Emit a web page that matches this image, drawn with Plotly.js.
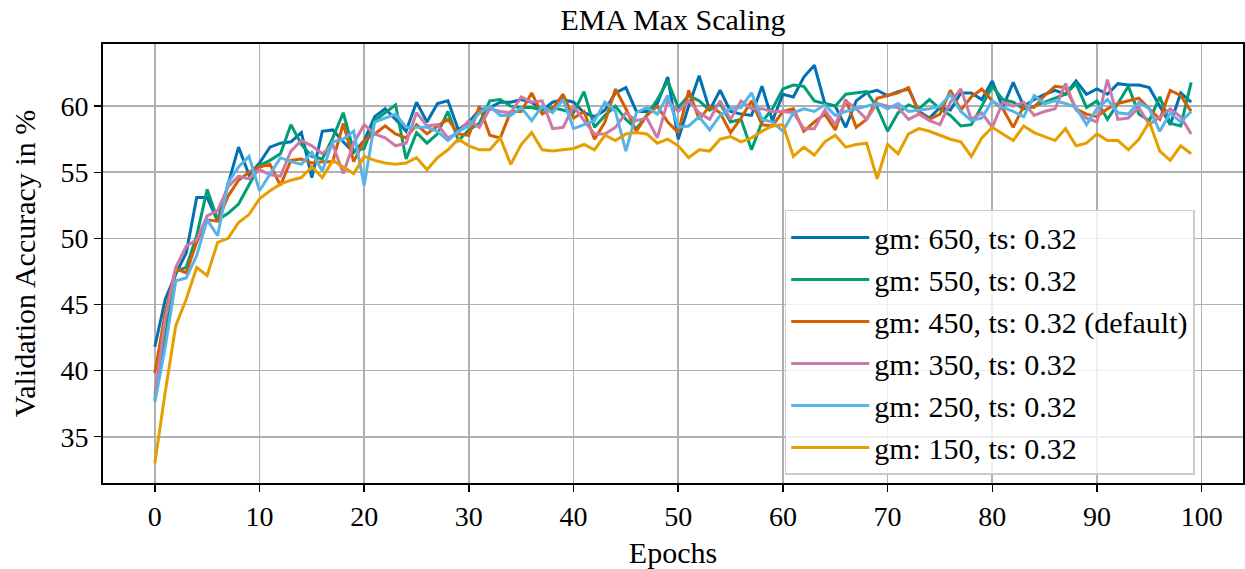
<!DOCTYPE html>
<html>
<head>
<meta charset="utf-8">
<script src="https://cdn.plot.ly/plotly-3.0.1.min.js"></script>
<style>
  html, body { margin: 0; padding: 0; background: #ffffff; }
  #chart { width: 1245px; height: 569px; }
</style>
</head>
<body>
<div id="chart"></div>
<script>
const epochs = [0,1,2,3,4,5,6,7,8,9,10,11,12,13,14,15,16,17,18,19,20,21,22,23,24,25,26,27,28,29,30,31,32,33,34,35,36,37,38,39,40,41,42,43,44,45,46,47,48,49,50,51,52,53,54,55,56,57,58,59,60,61,62,63,64,65,66,67,68,69,70,71,72,73,74,75,76,77,78,79,80,81,82,83,84,85,86,87,88,89,90,91,92,93,94,95,96,97,98,99];

const seriesNames = [
  "gm: 650, ts: 0.32",
  "gm: 550, ts: 0.32",
  "gm: 450, ts: 0.32 (default)",
  "gm: 350, ts: 0.32",
  "gm: 250, ts: 0.32",
  "gm: 150, ts: 0.32"
];

const gm650 = [41.8,45.4,47.3,48.9,53.1,53.1,51.3,54.2,56.9,54.8,
  55.7,56.9,57.2,57.3,58.0,54.6,58.1,58.2,57.3,56.5,
  57.4,59.2,59.8,59.0,58.1,60.3,58.8,60.2,60.4,58.2,
  58.8,59.7,59.9,60.3,60.3,60.5,60.3,59.7,60.3,60.5,
  60.3,59.5,59.2,59.7,61.0,61.4,59.6,59.6,60.2,62.2,
  57.5,60.0,62.3,59.7,61.2,59.6,59.4,59.3,61.5,58.9,
  60.9,60.7,62.2,63.1,60.2,60.0,58.4,60.4,61.0,61.2,
  60.8,61.1,61.3,59.6,59.1,59.9,59.7,61.0,61.0,60.5,
  61.9,59.9,61.8,60.0,60.5,60.9,61.2,60.9,61.9,60.9,
  61.3,60.9,61.7,61.6,61.6,61.4,60.0,58.6,61.0,60.3];

const gm550 = [37.8,42.9,47.5,47.8,50.2,53.7,51.4,51.9,52.6,54.0,
  55.5,55.9,56.4,58.6,57.1,56.2,56.0,57.6,59.5,56.6,
  56.8,58.9,59.5,60.1,56.0,58.0,57.2,57.9,59.6,57.4,
  58.2,58.7,60.4,60.5,60.0,59.9,59.9,59.7,59.9,59.7,
  59.5,61.1,58.4,59.3,60.0,59.0,58.3,59.3,60.5,61.9,
  59.9,60.8,60.4,59.7,60.2,58.8,59.0,56.7,58.8,59.8,
  61.3,61.6,61.5,60.4,60.2,60.0,60.9,61.0,61.1,59.9,
  58.1,59.5,60.1,59.8,60.5,59.8,59.3,58.5,58.6,60.0,
  61.5,60.5,60.3,59.8,60.0,60.3,60.6,60.9,61.7,59.9,
  60.4,59.0,60.2,61.5,59.4,58.9,60.7,58.7,58.5,61.8];

const gm450 = [39.8,44.4,47.7,47.4,49.7,51.4,51.3,53.2,54.4,55.0,
  55.4,55.6,54.0,55.9,56.0,55.7,55.8,55.8,58.7,55.8,
  57.4,57.9,58.5,57.9,57.6,58.6,57.9,58.5,59.0,57.9,
  57.8,60.0,57.8,57.6,59.6,59.6,61.0,59.4,59.8,60.9,
  59.1,59.6,57.5,58.8,61.3,59.8,58.1,59.3,60.0,58.8,
  58.0,61.2,59.0,60.0,59.5,58.0,59.1,60.4,58.6,58.5,
  59.6,59.8,58.1,58.8,59.4,58.2,60.5,58.4,59.0,60.6,
  60.8,61.0,61.4,59.5,59.0,59.4,61.2,59.7,60.7,61.3,
  60.4,59.8,58.4,60.0,59.9,60.8,61.5,61.4,59.8,59.4,
  59.2,59.8,60.2,60.4,60.6,59.8,59.0,61.2,60.8,59.6];

const gm350 = [38.2,43.9,47.8,49.4,49.9,51.7,52.1,53.9,54.7,54.5,
  55.2,54.8,54.7,56.6,57.4,57.0,56.4,57.1,54.9,57.2,
  58.6,57.9,57.6,57.0,57.2,59.5,58.5,58.6,57.6,58.0,
  58.9,58.4,59.8,59.6,59.5,60.7,60.3,60.4,58.3,58.4,
  60.0,58.9,57.9,57.9,58.4,59.5,58.9,59.1,57.6,60.4,
  59.6,60.4,59.5,59.0,60.4,59.0,60.4,59.8,59.8,59.6,
  59.6,59.5,58.3,58.3,59.7,58.6,60.4,59.8,59.0,60.2,
  60.0,59.9,59.0,59.4,58.9,58.6,60.3,61.3,59.0,59.5,
  58.4,60.3,60.0,60.3,59.3,59.6,59.8,61.7,59.7,59.1,
  58.8,62.0,59.0,59.1,59.9,58.6,59.2,59.8,59.2,57.9];

const gm250 = [37.6,41.8,46.8,47.0,48.7,51.4,50.2,54.2,55.4,56.2,
  53.6,54.8,56.1,55.8,55.6,56.5,55.1,57.3,57.5,58.1,
  54.0,58.8,59.1,59.4,58.4,58.4,58.4,58.1,57.4,58.1,
  58.5,59.5,60.0,59.3,59.3,59.9,58.9,60.0,59.5,60.5,
  58.3,58.6,58.9,60.3,59.6,56.6,59.5,59.9,59.4,60.8,
  58.4,58.5,59.2,58.2,59.3,59.8,59.9,61.0,59.0,58.8,
  58.1,59.5,59.8,59.6,60.1,59.3,59.6,59.8,60.0,60.2,
  59.8,60.2,59.6,59.7,59.8,60.0,60.9,59.6,58.9,59.1,
  60.4,59.9,59.6,59.2,60.8,60.2,60.4,60.2,59.9,58.6,
  59.8,60.5,59.5,59.4,60.3,59.8,58.1,59.5,58.8,59.6];

const gm150 = [33.0,38.4,43.4,45.4,47.8,47.2,49.7,50.0,51.2,51.8,
  53.0,53.6,54.1,54.4,54.6,55.4,54.6,55.9,55.4,54.9,
  56.2,55.9,55.7,55.6,55.7,56.1,55.2,56.1,56.7,57.5,
  57.0,56.7,56.7,57.6,55.6,57.1,58.0,56.7,56.6,56.7,
  56.8,57.1,56.7,57.8,57.4,57.9,58.0,57.9,57.2,57.5,
  57.0,56.1,56.7,56.6,57.5,57.7,57.3,57.6,58.1,58.5,
  58.6,56.2,56.9,56.3,57.3,57.8,56.9,57.1,57.2,54.5,
  57.1,56.4,57.9,58.3,58.1,57.8,57.5,57.3,56.2,57.6,
  58.4,57.9,57.4,58.5,58.0,57.7,57.4,58.3,57.0,57.2,
  57.9,57.4,57.4,56.7,57.5,58.8,56.6,55.9,57.0,56.4];

const seriesValues = [gm650, gm550, gm450, gm350, gm250, gm150];
const seriesColors = ["#0072B2", "#009E73", "#D55E00", "#CC79A7", "#56B4E9", "#E69F00"];

const xTicks = [0,10,20,30,40,50,60,70,80,90,100];
const yTicks = [35,40,45,50,55,60];

const FONT = "Liberation Serif, Times New Roman, serif";

const traces = seriesValues.map((vals, i) => ({
  type: "scatter",
  mode: "lines",
  x: epochs,
  y: vals,
  name: seriesNames[i],
  legendgroup: "g" + i,
  line: { color: seriesColors[i], width: 3 },
  hoverinfo: "skip"
}));

const layout = {
  width: 1245,
  height: 569,
  paper_bgcolor: "#ffffff",
  plot_bgcolor: "#ffffff",
  margin: { l: 103, r: 2, t: 44, b: 86 },
  font: { family: FONT, size: 28, color: "#000000" },
  title: {
    text: "EMA Max Scaling",
    font: { family: FONT, size: 30, color: "#000000" },
    x: 0.5406, xref: "container", xanchor: "center",
    y: 0.965, yref: "container", yanchor: "middle"
  },
  showlegend: true,
  legend: {
    x: 0.598, y: 0.622, xanchor: "left", yanchor: "top",
    bgcolor: "rgba(255,255,255,0.8)",
    bordercolor: "#cccccc", borderwidth: 1.5,
    font: { family: FONT, size: 30, color: "#000000" },
    itemwidth: 78,
    tracegroupgap: 1,
    traceorder: "normal"
  },
  xaxis: {
    range: [-4.95, 103.95],
    tickvals: xTicks,
    ticktext: xTicks.map(String),
    ticks: "outside", ticklen: 7, tickwidth: 1.5, tickcolor: "#000000",
    showgrid: true, gridcolor: "#b0b0b0", gridwidth: 1.6,
    zeroline: false,
    showline: true, linecolor: "#000000", linewidth: 2, mirror: true,
    tickfont: { family: FONT, size: 28, color: "#000000" },
    title: { text: "Epochs", font: { family: FONT, size: 30, color: "#000000" }, standoff: 12 }
  },
  yaxis: {
    range: [31.5, 64.7],
    tickvals: yTicks,
    ticktext: yTicks.map(String),
    ticks: "outside", ticklen: 7, tickwidth: 1.5, tickcolor: "#000000",
    showgrid: true, gridcolor: "#b0b0b0", gridwidth: 1.6,
    zeroline: false,
    showline: true, linecolor: "#000000", linewidth: 2, mirror: true,
    tickfont: { family: FONT, size: 28, color: "#000000" },
    title: { text: "Validation Accuracy in %", font: { family: FONT, size: 30, color: "#000000" }, standoff: 16 }
  }
};

Plotly.newPlot("chart", traces, layout, { displayModeBar: false, staticPlot: true });
</script>
</body>
</html>
